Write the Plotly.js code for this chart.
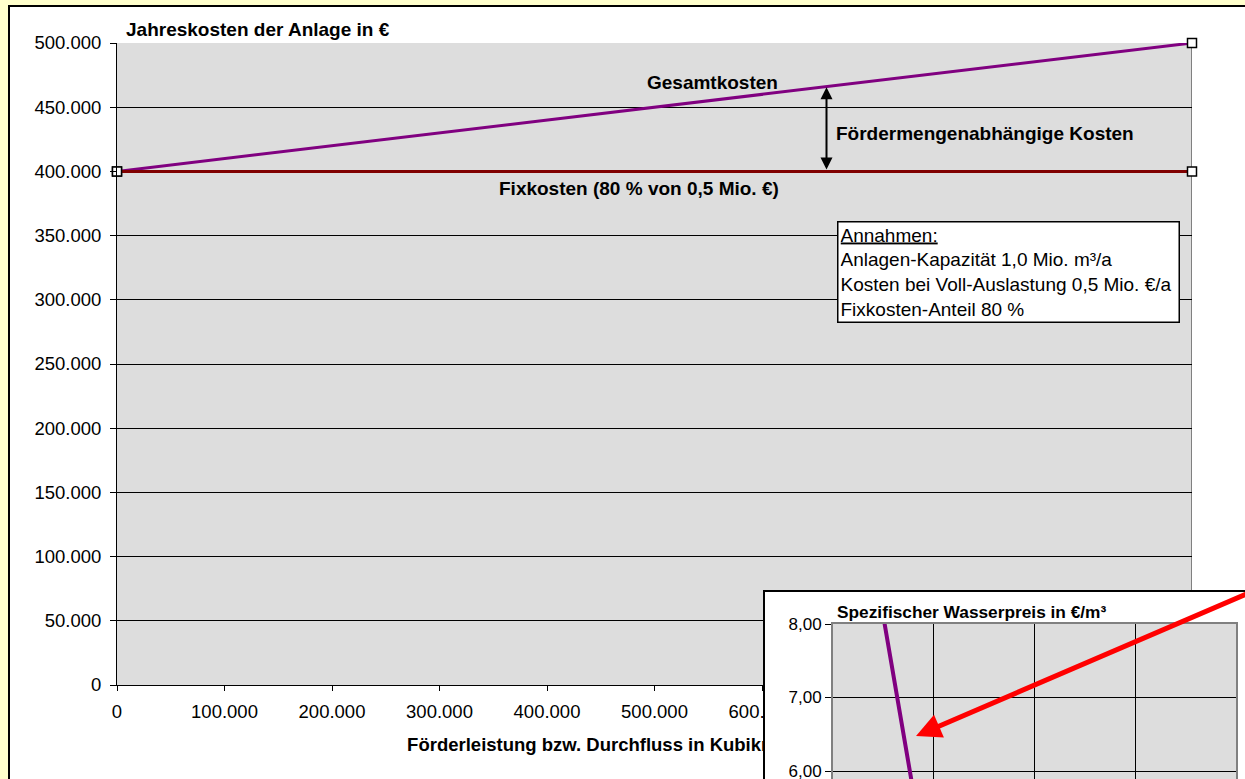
<!DOCTYPE html>
<html><head><meta charset="utf-8">
<script src="https://cdn.plot.ly/plotly-3.0.1.min.js"></script>
<style>
html,body{margin:0;padding:0;overflow:hidden;width:1245px;height:779px;background:#FFFFCC;}
#main{position:absolute;left:0;top:0;width:1245px;height:779px;}
#inset{position:absolute;left:763px;top:590px;border-left:2px solid #000;border-top:2px solid #000;width:520px;height:700px;background:#fff;}
</style></head><body>
<div id="main"></div><div id="inset"></div>
<script>
// ---- data ----
const volume = [0, 1000000];
const totalCost = [400000, 500000];   // Gesamtkosten
const fixedCost = [400000, 400000];   // Fixkosten
const xTickVals = [0, 100000, 200000, 300000, 400000, 500000, 600000];
const priceVolume = [50000, 100000, 150000, 200000, 250000, 300000, 350000, 400000];
const priceValues = [8.10, 4.10, 2.77, 2.10, 1.70, 1.43, 1.24, 1.10];
const priceTickVals = [6, 7, 8];
const mainTitle = 'Jahreskosten der Anlage in €';
const xTitle = 'Förderleistung bzw. Durchfluss in Kubikmetern pro Jahr';
const insetTitle = 'Spezifischer Wasserpreis in €/m³';
const lblTotal = 'Gesamtkosten';
const lblVariable = 'Fördermengenabhängige Kosten';
const lblFixed = 'Fixkosten (80 % von 0,5 Mio. €)';
const assumptions = ['Annahmen:', 'Anlagen-Kapazität 1,0 Mio. m³/a', 'Kosten bei Voll-Auslastung 0,5 Mio. €/a', 'Fixkosten-Anteil 80 %'];

const FONT = 'Liberation Sans, Arial, Helvetica, sans-serif';
const PW = 1075, PH = 642, L = 117, T = 43;
const px2x = p => (p - L) / PW;
const py2y = p => (T + PH - p) / PH;

const markerStyle = {symbol: 'square', size: 9, color: '#fff', line: {color: '#000', width: 1.5}};

const mainTraces = [
  {x: volume, y: totalCost, mode: 'lines+markers', line: {color: '#800080', width: 3}, marker: markerStyle, cliponaxis: false, name: lblTotal},
  {x: volume, y: fixedCost, mode: 'lines+markers', line: {color: '#800000', width: 3}, marker: markerStyle, cliponaxis: false, name: lblFixed}
];

const boldFont = {family: FONT, size: 19, color: '#000'};

const mainLayout = {
  width: 1245, height: 779,
  margin: {l: 117, r: 53, t: 43, b: 94},
  paper_bgcolor: '#FFFFCC', plot_bgcolor: '#DDDDDD',
  separators: ',.',
  showlegend: false,
  font: {family: FONT, color: '#000', size: 18.5},
  xaxis: {
    range: [0, 1000000], tickmode: 'array', tickvals: xTickVals, tickformat: ',d',
    showgrid: false, zeroline: false,
    showline: true, linecolor: '#000', linewidth: 1,
    ticks: 'outside', ticklen: 5, tickcolor: '#000', ticklabelstandoff: 5,
    tickfont: {size: 18.5},
    title: {text: '<b>' + xTitle + '</b>', font: {family: FONT, size: 18.5, color: '#000'}, standoff: 16}
  },
  yaxis: {
    range: [0, 500000], dtick: 50000, tickformat: ',d',
    showgrid: true, gridcolor: '#000', gridwidth: 1, zeroline: false,
    showline: true, linecolor: '#000', linewidth: 1,
    ticks: 'outside', ticklen: 6, tickcolor: '#000', ticklabelstandoff: 5,
    tickfont: {size: 18.5}
  },
  shapes: [
    {type: 'rect', xref: 'paper', yref: 'paper', x0: px2x(9), x1: px2x(1300), y0: py2y(800), y1: py2y(6),
     fillcolor: '#fff', line: {color: '#000', width: 2}, layer: 'below'},
    {type: 'rect', xref: 'paper', yref: 'paper', x0: 0, x1: 1, y0: 0, y1: 1,
     fillcolor: '#DDDDDD', line: {width: 0}, layer: 'below'},
    {type: 'line', xref: 'x', yref: 'y', x0: 1000000, x1: 1000000, y0: 0, y1: 500000,
     line: {color: '#808080', width: 2}, layer: 'below'}
  ],
  annotations: [
    {xref: 'paper', yref: 'paper', x: px2x(124), y: py2y(29), xanchor: 'left', yanchor: 'middle',
     text: '<b>' + mainTitle + '</b>', showarrow: false, font: boldFont},
    {xref: 'x', yref: 'y', x: 553500, y: 469600, xanchor: 'center', yanchor: 'middle',
     text: '<b>' + lblTotal + '</b>', showarrow: false, font: boldFont},
    {xref: 'x', yref: 'y', x: 667000, y: 429900, xanchor: 'left', yanchor: 'middle',
     text: '<b>' + lblVariable + '</b>', showarrow: false, font: boldFont},
    {xref: 'x', yref: 'y', x: 485600, y: 386300, xanchor: 'center', yanchor: 'middle',
     text: '<b>' + lblFixed + '</b>', showarrow: false, font: boldFont},
    {xref: 'x', yref: 'y', x: 660000, y: 465500, axref: 'x', ayref: 'y', ax: 660000, ay: 400300,
     text: '', showarrow: true, arrowside: 'end+start', arrowhead: 2, startarrowhead: 2,
     arrowsize: 1.2, startarrowsize: 1.2, arrowwidth: 2, arrowcolor: '#000', standoff: 0, startstandoff: 0},
    {xref: 'paper', yref: 'paper', x: px2x(837), y: py2y(221), xanchor: 'left', yanchor: 'top',
     align: 'left', valign: 'top', showarrow: false, bgcolor: '#fff', bordercolor: '#000', borderwidth: 1.5, borderpad: 2,
     width: 336, height: 95,
     font: {family: FONT, size: 19, color: '#000'},
     text: '<span style="text-decoration:underline">' + assumptions[0] + '</span><br>' + assumptions.slice(1).join('<br>')}
  ]
};

Plotly.newPlot('main', mainTraces, mainLayout, {staticPlot: true});

// ---- inset ----
const insetTraces = [
  {x: priceVolume, y: priceValues, mode: 'lines', line: {color: '#800080', width: 4}, name: insetTitle}
];
const insetLayout = {
  width: 520, height: 700,
  margin: {l: 68, r: 49, t: 32, b: 80},
  paper_bgcolor: '#fff', plot_bgcolor: '#DDDDDD',
  separators: ',.',
  showlegend: false,
  font: {family: FONT, color: '#000', size: 17},
  xaxis: {
    range: [0, 400000], dtick: 100000, showticklabels: false,
    showgrid: true, gridcolor: '#000', gridwidth: 1, zeroline: false,
    showline: true, linecolor: '#808080', linewidth: 2, mirror: true,
    ticks: 'outside', ticklen: 6, tickcolor: '#000'
  },
  yaxis: {
    range: [0, 8], tickmode: 'array', tickvals: priceTickVals, tickformat: '.2f',
    showgrid: true, gridcolor: '#000', gridwidth: 1, zeroline: false,
    showline: true, linecolor: '#808080', linewidth: 2, mirror: true,
    ticks: 'outside', ticklen: 6, tickcolor: '#000',
    tickfont: {size: 17}
  },
  annotations: [
    {xref: 'paper', yref: 'paper', x: 0.006, y: 1 + 12 / 588, xanchor: 'left', yanchor: 'middle',
     text: '<b>' + insetTitle + '</b>', showarrow: false, font: {family: FONT, size: 17.3, color: '#000'}},
    {xref: 'x', yref: 'y', x: 82400, y: 6.476, ax: 335, ay: -146,
     text: '', showarrow: true, arrowhead: 2, arrowsize: 1, arrowwidth: 5, arrowcolor: '#FF0000', standoff: 0}
  ]
};
Plotly.newPlot('inset', insetTraces, insetLayout, {staticPlot: true});
</script>
</body></html>
